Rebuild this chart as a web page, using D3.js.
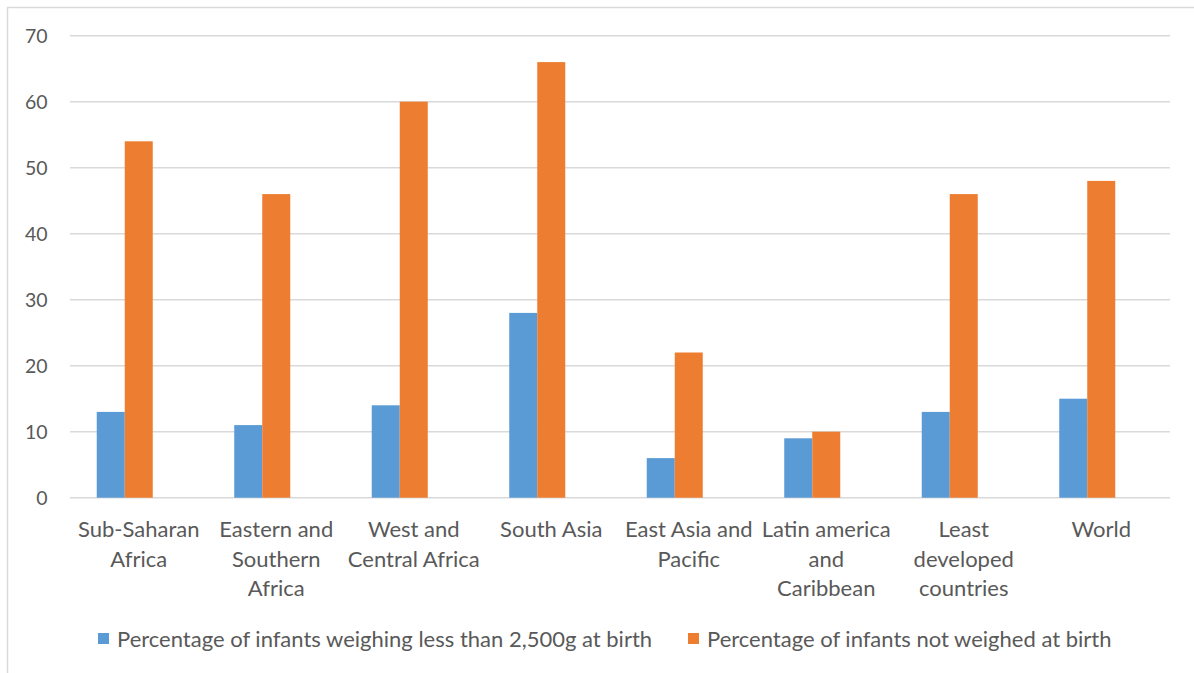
<!DOCTYPE html>
<html><head><meta charset="utf-8">
<script src="https://cdn.jsdelivr.net/npm/d3@7"></script>
<style>body{margin:0;background:#fff;}svg{display:block;}</style>
</head><body>
<svg id="chart" width="1194" height="673"></svg>
<script>
const categories = ["Sub-Saharan\nAfrica","Eastern and\nSouthern\nAfrica","West and\nCentral Africa","South Asia","East Asia and\nPacific","Latin america\nand\nCaribbean","Least\ndeveloped\ncountries","World"];
const seriesNames = ["Percentage of infants weighing less than 2,500g at birth","Percentage of infants not weighed at birth"];
const lowWeight = [13,11,14,28,6,9,13,15];
const notWeighed = [54,46,60,66,22,10,46,48];
const yTicks = [0,10,20,30,40,50,60,70];
const colors = ["#5B9BD5","#ED7D31"];

const svg = d3.select("#chart");
const font = "Lato, 'Open Sans', sans-serif";
const textColor = "#595959";
const mLeft = 70, mRight = 1170, mTop = 35.7, mBottom = 497.7;

svg.append("rect").attr("x",7.5).attr("y",7.5).attr("width",1300).attr("height",800)
  .attr("fill","none").attr("stroke","#d9d9d9").attr("stroke-width",1.5);

const x = d3.scaleBand().domain(categories).range([mLeft,mRight]).paddingInner(0.389).paddingOuter(0.1945);
// three slots per group (third slot empty, as in the source)
const x1 = d3.scaleBand().domain([0,1,2]).range([0,x.bandwidth()]);
const y = d3.scaleLinear().domain([0,70]).range([mBottom,mTop]);

svg.append("g").selectAll("line").data(yTicks).join("line")
  .attr("x1",mLeft).attr("x2",mRight).attr("y1",d=>y(d)).attr("y2",d=>y(d))
  .attr("stroke","#d9d9d9").attr("stroke-width",1.4);

svg.append("g").selectAll("text").data(yTicks).join("text")
  .attr("x",47.5).attr("y",d=>y(d)).attr("dy","0.38em").attr("text-anchor","end")
  .attr("font-family",font).attr("font-size",19.5).attr("fill",textColor).text(d=>d);

const series = [lowWeight, notWeighed];
series.forEach((vals,si)=>{
  svg.append("g").selectAll("rect").data(vals).join("rect")
    .attr("x",(d,i)=>x(categories[i])+x1(si))
    .attr("width",x1.bandwidth())
    .attr("y",d=>y(d)).attr("height",d=>y(0)-y(d))
    .attr("fill",colors[si]);
});

const step = x.step();
categories.forEach((c,ci)=>{
  const center = mLeft + (ci+0.5)*step;
  const lines = c.split("\n");
  const t = svg.append("text").attr("text-anchor","middle").attr("font-family",font)
    .attr("font-size",22).attr("fill",textColor);
  lines.forEach((ln,k)=>{
    t.append("tspan").attr("x",center).attr("y",537+k*29.7).text(ln);
  });
});

const legendY = 639;
const legendX = [98,688];
seriesNames.forEach((n,i)=>{
  svg.append("rect").attr("x",legendX[i]).attr("y",legendY-6).attr("width",11).attr("height",11).attr("fill",colors[i]);
  svg.append("text").attr("x",legendX[i]+19).attr("y",legendY).attr("dy","0.36em")
    .attr("font-family",font).attr("font-size",22).attr("fill",textColor).text(n);
});
</script>
</body></html>
